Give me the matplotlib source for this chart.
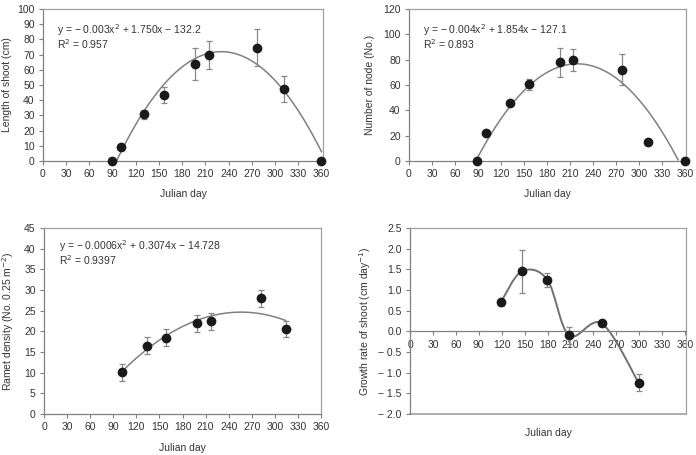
import matplotlib
matplotlib.use('Agg')
import matplotlib.pyplot as plt
import numpy as np
from matplotlib.path import Path
from matplotlib.patches import PathPatch

plt.rcParams['font.family'] = ['Liberation Sans', 'DejaVu Sans']
plt.rcParams['axes.unicode_minus'] = True

# shoot length
day_len = [89, 101, 130, 156, 196.5, 214, 277, 311, 359.6]
length = [0, 9.4, 30.7, 43.4, 64, 69.7, 74.6, 47.4, 0]
length_err = [0, 1.0, 3.0, 5.3, 10.6, 9.1, 12.2, 8.5, 0]
length_fit = [-0.00392, 1.807, -136.3]

# node number
day_node = [89, 101, 131, 157, 196.5, 214, 278, 311, 360]
node = [0, 21.8, 46, 60.5, 78, 79.7, 72, 14.7, 0]
node_err = [0, 1.0, 2.0, 4.5, 11.3, 8.7, 12.3, 0, 0]
node_fit = [-0.00439, 1.925, -134.3]

# ramet density
day_ramet = [102, 133.5, 159, 199, 216.5, 282.6, 314]
ramet = [10.1, 16.5, 18.5, 21.9, 22.4, 28, 20.6]
ramet_err = [2.1, 2.1, 2.1, 2.1, 2.1, 2.1, 2.0]
ramet_fit = [-0.0006, 0.3074, -14.728]

# growth rate
day_rate = [118.7, 146, 179.6, 208, 251, 299]
rate = [0.70, 1.45, 1.25, -0.10, 0.19, -1.24]
rate_err = [0.08, 0.52, 0.17, 0.20, 0.05, 0.21]

txt = '#333333'
box = '#a0a0a0'
axc = '#808080'
curve = '#808080'

fig = plt.figure(figsize=(6.96, 4.55), dpi=100)


def setup(ax, ylim, yticks, xlim=(0, 361)):
    ax.set_xlim(*xlim)
    ax.set_ylim(*ylim)
    ax.set_xticks(range(0, 361, 30))
    ax.set_yticks(yticks)
    for s in ['top', 'right']:
        ax.spines[s].set_color(box)
        ax.spines[s].set_linewidth(0.9)
    for s in ['left', 'bottom']:
        ax.spines[s].set_color(axc)
        ax.spines[s].set_linewidth(0.9)
    ax.tick_params(direction='out', length=3, width=0.8, color=axc,
                   labelsize=7.5, labelcolor=txt, pad=3)


def points(ax, x, y, e):
    ax.errorbar(x, y, yerr=e, fmt='none', ecolor='#888888', elinewidth=0.9,
                capsize=2, capthick=0.9, zorder=3)
    ax.plot(x, y, 'o', color='#1a1a1a', markersize=6, zorder=4, clip_on=False)


def trend(ax, coef, x0, x1):
    xs = np.linspace(x0, x1, 300)
    ys = np.polyval(coef, xs)
    m = ys >= 0
    ax.plot(xs[m], ys[m], color=curve, lw=1.1, zorder=2)


# panel 1
ax1 = fig.add_axes([43 / 696, 1 - 161 / 455, 280 / 696, 152 / 455])
setup(ax1, (0, 100), range(0, 101, 10), (0, 362))
trend(ax1, length_fit, 85, 360)
points(ax1, day_len, length, length_err)
ax1.set_xlabel('Julian day', fontsize=7.5, color=txt, labelpad=7)
ax1.set_ylabel('Length of shoot (cm)', fontsize=7.5, color=txt, labelpad=4)
ax1.text(18, 86, 'y = \u2212 0.003x$^2$ + 1.750x \u2212 132.2', fontsize=7.5,
         color=txt, va='center')
ax1.text(18, 77, 'R$^2$ = 0.957', fontsize=7.5, color=txt, va='center')

# panel 2
ax2 = fig.add_axes([409 / 696, 1 - 161 / 455, 277 / 696, 152 / 455])
setup(ax2, (0, 120), range(0, 121, 20))
trend(ax2, node_fit, 80, 360)
points(ax2, day_node, node, node_err)
ax2.set_xlabel('Julian day', fontsize=7.5, color=txt, labelpad=7)
ax2.set_ylabel('Number of node (No.)', fontsize=7.5, color=txt, labelpad=6)
ax2.text(18, 103, 'y = \u2212 0.004x$^2$ + 1.854x \u2212 127.1', fontsize=7.5,
         color=txt, va='center')
ax2.text(18, 92, 'R$^2$ = 0.893', fontsize=7.5, color=txt, va='center')

# panel 3
ax3 = fig.add_axes([44 / 696, 1 - 414 / 455, 277 / 696, 186 / 455])
setup(ax3, (0, 45), range(0, 46, 5), (0, 360))
trend(ax3, ramet_fit, day_ramet[0], day_ramet[-1])
points(ax3, day_ramet, ramet, ramet_err)
ax3.set_xlabel('Julian day', fontsize=7.5, color=txt, labelpad=8)
ax3.set_ylabel('Ramet density (No. 0.25 m$^{-2}$)', fontsize=7.5, color=txt,
               labelpad=6)
ax3.text(19, 40.5, 'y = \u2212 0.0006x$^2$ + 0.3074x \u2212 14.728', fontsize=7.5,
         color=txt, va='center')
ax3.text(19, 37.2, 'R$^2$ = 0.9397', fontsize=7.5, color=txt, va='center')

# panel 4
ax4 = fig.add_axes([410 / 696, 1 - 414 / 455, 276 / 696, 186 / 455])
setup(ax4, (-2.0, 2.5), np.arange(-2.0, 2.51, 0.5))
ax4.spines['bottom'].set_position(('data', 0))
ax4.axhline(-2.0, color=box, lw=1.2, clip_on=False)
ax4.set_yticklabels([f'{v:.1f}'.replace('-', '\u2212 ') for v in np.arange(-2.0, 2.51, 0.5)])

# Excel style smoothed line through the points
px = np.array(day_rate)
py = np.array(rate)
verts = [(px[0], py[0])]
codes = [Path.MOVETO]
n = len(px)
for i in range(n - 1):
    a = max(i - 1, 0)
    d = min(i + 2, n - 1)
    c1 = (px[i] + (px[i + 1] - px[a]) / 6, py[i] + (py[i + 1] - py[a]) / 6)
    c2 = (px[i + 1] - (px[d] - px[i]) / 6, py[i + 1] - (py[d] - py[i]) / 6)
    verts += [c1, c2, (px[i + 1], py[i + 1])]
    codes += [Path.CURVE4] * 3
ax4.add_patch(PathPatch(Path(verts, codes), fill=False, edgecolor='#707070',
                        lw=1.4, zorder=2))
points(ax4, day_rate, rate, rate_err)
ax4.set_xlabel('Julian day', fontsize=7.5, color=txt)
ax4.xaxis.set_label_coords(0.5, -0.075)
ax4.set_ylabel('Growth rate of shoot (cm day$^{-1}$)', fontsize=7.5, color=txt,
               labelpad=4)

fig.savefig('out.png', dpi=100)
